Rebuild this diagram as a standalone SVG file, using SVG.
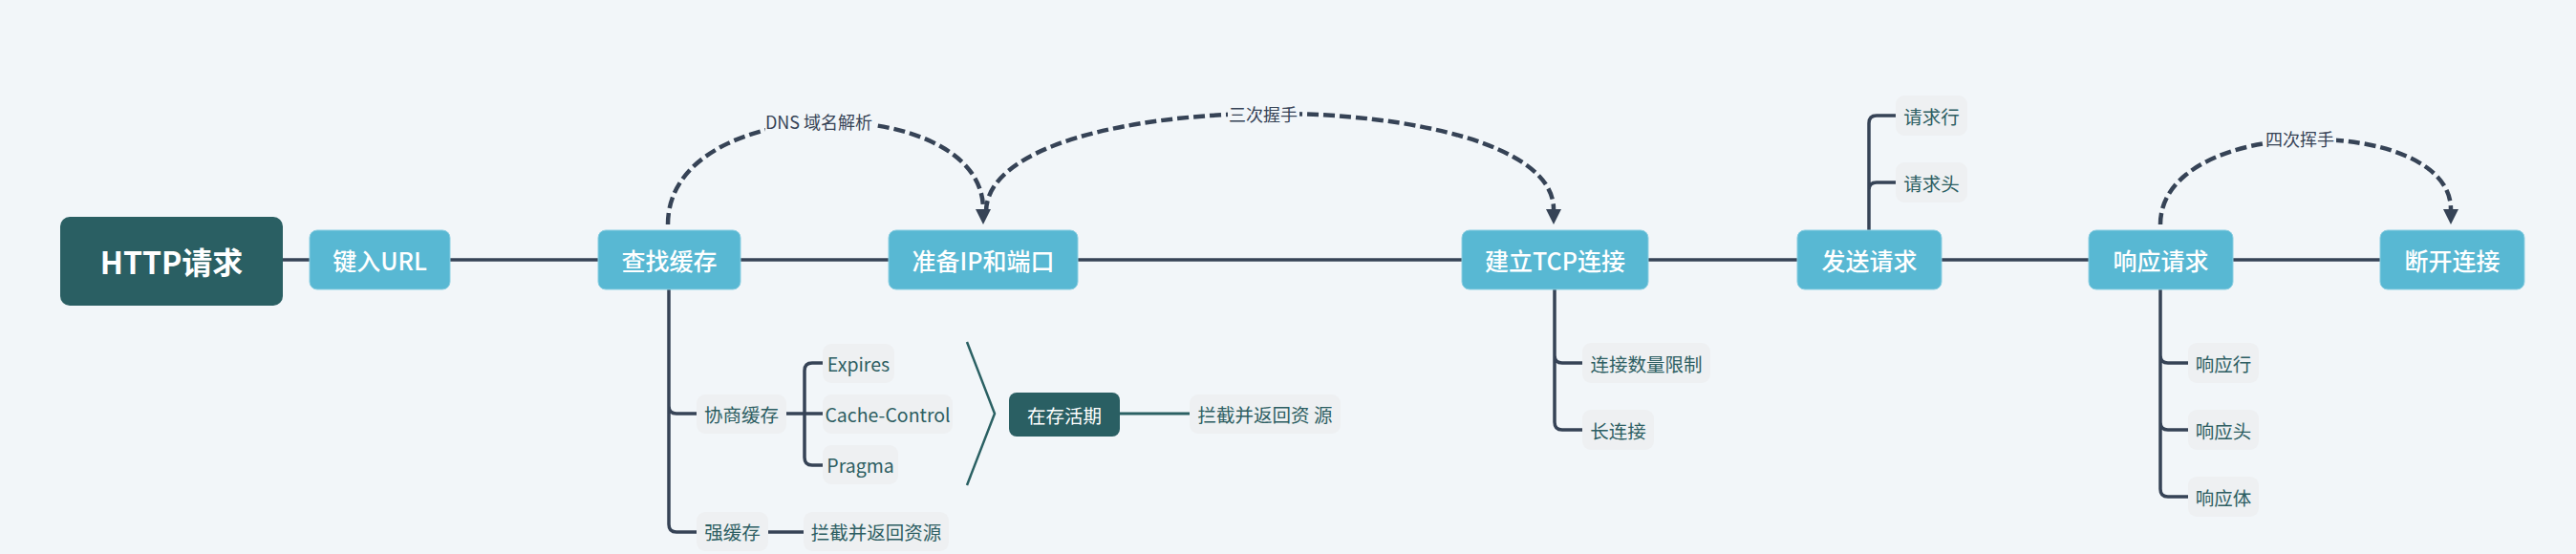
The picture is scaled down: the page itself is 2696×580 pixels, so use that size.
<svg xmlns="http://www.w3.org/2000/svg" width="2696" height="580" viewBox="0 0 2696 580">
<defs>
<style>
.bg{fill:#f2f6f9}
.main{fill:#58b8d3;stroke:#8ccfe2;stroke-width:1}
.root{fill:#2a5f63}
.dark{fill:#2a5f63}
.leaf{fill:#eef0f2}
.tmain{font-family:"Noto Sans CJK SC",sans-serif;font-size:25px;font-weight:500;fill:#ffffff;text-anchor:middle;dominant-baseline:central}
.troot{font-family:"Noto Sans CJK SC",sans-serif;font-size:32px;font-weight:700;fill:#ffffff;text-anchor:middle;dominant-baseline:central}
.tleaf{font-family:"Noto Sans CJK SC",sans-serif;font-size:19.5px;fill:#2d5e62;text-anchor:middle;dominant-baseline:central}
.tdark{font-family:"Noto Sans CJK SC",sans-serif;font-size:19.5px;fill:#ffffff;text-anchor:middle;dominant-baseline:central}
.tcurve{font-family:"Noto Sans CJK SC",sans-serif;font-size:18px;fill:#364356;text-anchor:middle;dominant-baseline:central}
.line{fill:none;stroke:#364356;stroke-width:3.5;stroke-linecap:round}
.tline{fill:none;stroke:#2a6063;stroke-width:3}
.bracket{fill:none;stroke:#2a6063;stroke-width:2.5}
.dash{fill:none;stroke:#364356;stroke-width:4.5;stroke-dasharray:12 5;marker-end:url(#arrow)}
</style>
<marker id="arrow" viewBox="0 0 16 16" markerWidth="16" markerHeight="16" markerUnits="userSpaceOnUse" refX="0" refY="8" orient="auto">
<path d="M0 0 L16 8 L0 16 z" fill="#364356"/>
</marker>
</defs>
<rect class="bg" x="0" y="0" width="2696" height="580"/>

<g id="connectors">
<path class="line" d="M296 272 H2491"/>
<path class="line" d="M700 303 V549 Q700 557 708 557 H729 M700 425 Q700 433 708 433 H729"/>
<path class="line" d="M823 433 H861 M842 433 V388 Q842 380 850 380 H861 M842 433 V479 Q842 487 850 487 H861"/>
<path class="line" d="M804 557 H841"/>
<path class="line" d="M1627 303 V442 Q1627 450 1635 450 H1656 M1627 372 Q1627 380 1635 380 H1656"/>
<path class="line" d="M1956 241 V129 Q1956 121 1964 121 H1984 M1956 199 Q1956 191 1964 191 H1984"/>
<path class="line" d="M2261 303 V512 Q2261 520 2269 520 H2290 M2261 372 Q2261 380 2269 380 H2290 M2261 442 Q2261 450 2269 450 H2290"/>
<path class="bracket" d="M1012 358 L1041 433 L1012 508"/>
<path class="tline" d="M1172 433 H1245"/>
<path class="dash" d="M699 235 C699 95 1029 95 1029 219"/>
<path class="dash" d="M1032 222 C1032 85 1626 85 1626 219"/>
<path class="dash" d="M2261 235 C2261 119 2565 119 2565 219"/>
<rect class="bg" x="801" y="115" width="113" height="25"/>
<text class="tcurve" x="857" y="127">DNS 域名解析</text>
<rect class="bg" x="1285" y="107" width="75" height="25"/>
<text class="tcurve" x="1322" y="119">三次握手</text>
<rect class="bg" x="2369" y="133" width="76" height="25"/>
<text class="tcurve" x="2407" y="145">四次挥手</text>
</g>

<g id="n-http"><rect class="root" x="63" y="227" width="233" height="93" rx="10"/><text class="troot" x="179.5" y="273">HTTP请求</text></g>
<g id="n-url"><rect class="main" x="324" y="241" width="147" height="62" rx="8"/><text class="tmain" x="397.5" y="272">键入URL</text></g>
<g id="n-cache"><rect class="main" x="626" y="241" width="149" height="62" rx="8"/><text class="tmain" x="700.5" y="272">查找缓存</text></g>
<g id="n-ip"><rect class="main" x="930" y="241" width="198" height="62" rx="8"/><text class="tmain" x="1029" y="272">准备IP和端口</text></g>
<g id="n-tcp"><rect class="main" x="1530" y="241" width="195" height="62" rx="8"/><text class="tmain" x="1627.5" y="272">建立TCP连接</text></g>
<g id="n-send"><rect class="main" x="1881" y="241" width="151" height="62" rx="8"/><text class="tmain" x="1956.5" y="272">发送请求</text></g>
<g id="n-resp"><rect class="main" x="2186" y="241" width="151" height="62" rx="8"/><text class="tmain" x="2261.5" y="272">响应请求</text></g>
<g id="n-close"><rect class="main" x="2491" y="241" width="151" height="62" rx="8"/><text class="tmain" x="2566.5" y="272">断开连接</text></g>

<g id="n-negotiate"><rect class="leaf" x="729" y="413" width="94" height="41" rx="9"/><text class="tleaf" x="776" y="433.5">协商缓存</text></g>
<g id="n-expires"><rect class="leaf" x="861" y="360" width="75" height="41" rx="9"/><text class="tleaf" x="898.5" y="380.5">Expires</text></g>
<g id="n-cachecontrol"><rect class="leaf" x="861" y="413" width="136" height="41" rx="9"/><text class="tleaf" x="929" y="433.5">Cache-Control</text></g>
<g id="n-pragma"><rect class="leaf" x="861" y="466" width="79" height="41" rx="9"/><text class="tleaf" x="900.5" y="486.5">Pragma</text></g>
<g id="n-alive"><rect class="dark" x="1056" y="411" width="116" height="46" rx="8"/><text class="tdark" x="1114" y="434">在存活期</text></g>
<g id="n-intercept2"><rect class="leaf" x="1245" y="413" width="158" height="41" rx="9"/><text class="tleaf" x="1324" y="433.5">拦截并返回资 源</text></g>
<g id="n-strong"><rect class="leaf" x="729" y="536" width="75" height="41" rx="9"/><text class="tleaf" x="766.5" y="556.5">强缓存</text></g>
<g id="n-intercept1"><rect class="leaf" x="841" y="536" width="152" height="41" rx="9"/><text class="tleaf" x="917" y="556.5">拦截并返回资源</text></g>

<g id="n-limit"><rect class="leaf" x="1656" y="359" width="134" height="42" rx="9"/><text class="tleaf" x="1723" y="380">连接数量限制</text></g>
<g id="n-keepalive"><rect class="leaf" x="1656" y="429" width="75" height="42" rx="9"/><text class="tleaf" x="1693.5" y="450">长连接</text></g>

<g id="n-reqline"><rect class="leaf" x="1984" y="100" width="75" height="42" rx="9"/><text class="tleaf" x="2021.5" y="121">请求行</text></g>
<g id="n-reqhead"><rect class="leaf" x="1984" y="170" width="75" height="42" rx="9"/><text class="tleaf" x="2021.5" y="191">请求头</text></g>

<g id="n-respline"><rect class="leaf" x="2290" y="359" width="74" height="42" rx="9"/><text class="tleaf" x="2327" y="380">响应行</text></g>
<g id="n-resphead"><rect class="leaf" x="2290" y="429" width="74" height="42" rx="9"/><text class="tleaf" x="2327" y="450">响应头</text></g>
<g id="n-respbody"><rect class="leaf" x="2290" y="499" width="74" height="42" rx="9"/><text class="tleaf" x="2327" y="520">响应体</text></g>
</svg>
